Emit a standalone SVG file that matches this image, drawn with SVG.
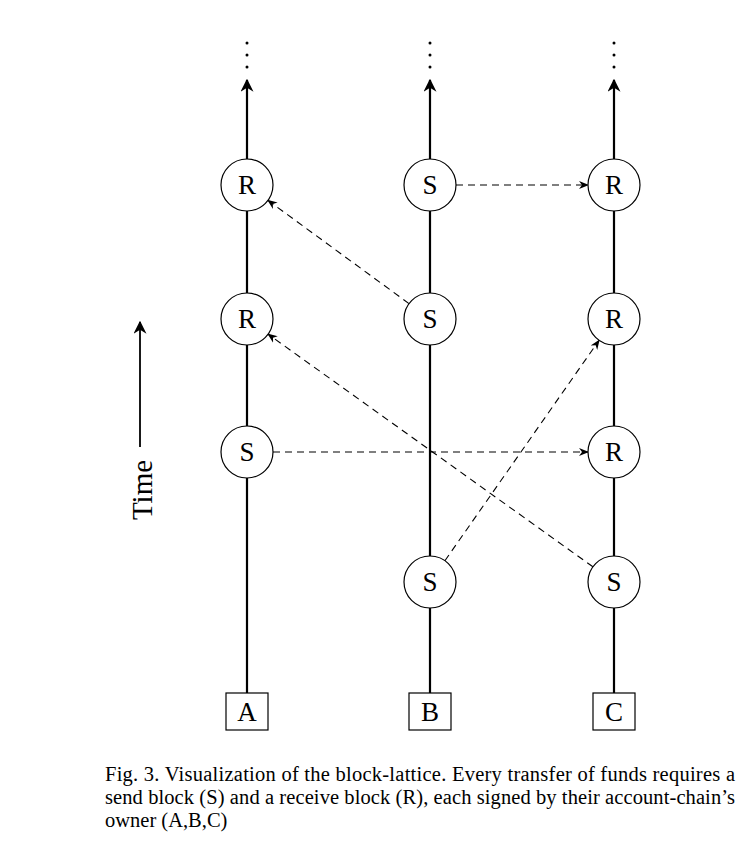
<svg xmlns="http://www.w3.org/2000/svg" width="750" height="856" viewBox="0 0 750 856">
<style>
.c{fill:#fff;stroke:#000;stroke-width:1.2}
.t{font-family:"Liberation Serif",serif;font-size:27px;text-anchor:middle}
.ch{stroke:#000;stroke-width:2.2;fill:none}
.d{stroke:#000;stroke-width:1.1;stroke-dasharray:7,5;fill:none}
.cap{font-family:"Liberation Serif",serif;font-size:20.5px}
</style>
<defs>
<marker id="ah" viewBox="0 0 10 10" refX="9" refY="5" markerWidth="10" markerHeight="10" markerUnits="userSpaceOnUse" orient="auto"><path d="M0,1 L10,5 L0,9 L3,5 Z" fill="#000"/></marker>
<marker id="bh" viewBox="0 0 10 10" refX="9" refY="5" markerWidth="13" markerHeight="13" markerUnits="userSpaceOnUse" orient="auto"><path d="M0,0 L10,5 L0,10 L3,5 Z" fill="#000"/></marker>
</defs>
<g id="chains">
<line class="ch" x1="247" y1="693" x2="247" y2="80" marker-end="url(#bh)"/>
<line class="ch" x1="430" y1="693" x2="430" y2="80" marker-end="url(#bh)"/>
<line class="ch" x1="614" y1="693" x2="614" y2="80" marker-end="url(#bh)"/>
<g fill="#000"><circle cx="247" cy="43" r="1.5"/><circle cx="247" cy="55" r="1.5"/><circle cx="247" cy="67" r="1.5"/>
<circle cx="430" cy="43" r="1.5"/><circle cx="430" cy="55" r="1.5"/><circle cx="430" cy="67" r="1.5"/>
<circle cx="614" cy="43" r="1.5"/><circle cx="614" cy="55" r="1.5"/><circle cx="614" cy="67" r="1.5"/></g>
</g>
<g id="connectors">
<line class="d" x1="456" y1="185" x2="588" y2="185" marker-end="url(#ah)"/>
<line class="d" x1="409" y1="303.6" x2="268" y2="200.4" marker-end="url(#ah)"/>
<line class="d" x1="592.9" y1="566.8" x2="268.1" y2="334.2" marker-end="url(#ah)"/>
<line class="d" x1="273" y1="452" x2="588" y2="452" marker-end="url(#ah)"/>
<line class="d" x1="444.9" y1="560.7" x2="599.1" y2="340.3" marker-end="url(#ah)"/>
</g>
<g id="A_R2"><circle class="c" cx="247" cy="185" r="26"/><text class="t" x="247" y="194">R</text></g>
<g id="A_R1"><circle class="c" cx="247" cy="319" r="26"/><text class="t" x="247" y="328">R</text></g>
<g id="A_S1"><circle class="c" cx="247" cy="452" r="26"/><text class="t" x="247" y="461">S</text></g>
<g id="B_S3"><circle class="c" cx="430" cy="185" r="26"/><text class="t" x="430" y="194">S</text></g>
<g id="B_S2"><circle class="c" cx="430" cy="319" r="26"/><text class="t" x="430" y="328">S</text></g>
<g id="B_S1"><circle class="c" cx="430" cy="582" r="26"/><text class="t" x="430" y="591">S</text></g>
<g id="C_R3"><circle class="c" cx="614" cy="185" r="26"/><text class="t" x="614" y="194">R</text></g>
<g id="C_R2"><circle class="c" cx="614" cy="319" r="26"/><text class="t" x="614" y="328">R</text></g>
<g id="C_R1"><circle class="c" cx="614" cy="452" r="26"/><text class="t" x="614" y="461">R</text></g>
<g id="C_S1"><circle class="c" cx="614" cy="582" r="26"/><text class="t" x="614" y="591">S</text></g>
<g id="A"><rect class="c" x="226" y="693" width="42" height="37"/><text class="t" x="247" y="721">A</text></g>
<g id="B"><rect class="c" x="409" y="693" width="42" height="37"/><text class="t" x="430" y="721">B</text></g>
<g id="C"><rect class="c" x="593" y="693" width="42" height="37"/><text class="t" x="614" y="721">C</text></g>
<g id="time">
<line x1="140" y1="447" x2="140" y2="322" stroke="#000" stroke-width="1.8" marker-end="url(#bh)"/>
<text class="t" style="font-size:29px" transform="translate(152,490) rotate(-90)">Time</text>
</g>
<g id="caption">
<text class="cap" x="105" y="781" textLength="630" lengthAdjust="spacing">Fig. 3.  Visualization of the block-lattice. Every transfer of funds requires a</text>
<text class="cap" x="105" y="804" textLength="630" lengthAdjust="spacing">send block (S) and a receive block (R), each signed by their account-chain’s</text>
<text class="cap" x="105" y="827">owner (A,B,C)</text>
</g>
</svg>
